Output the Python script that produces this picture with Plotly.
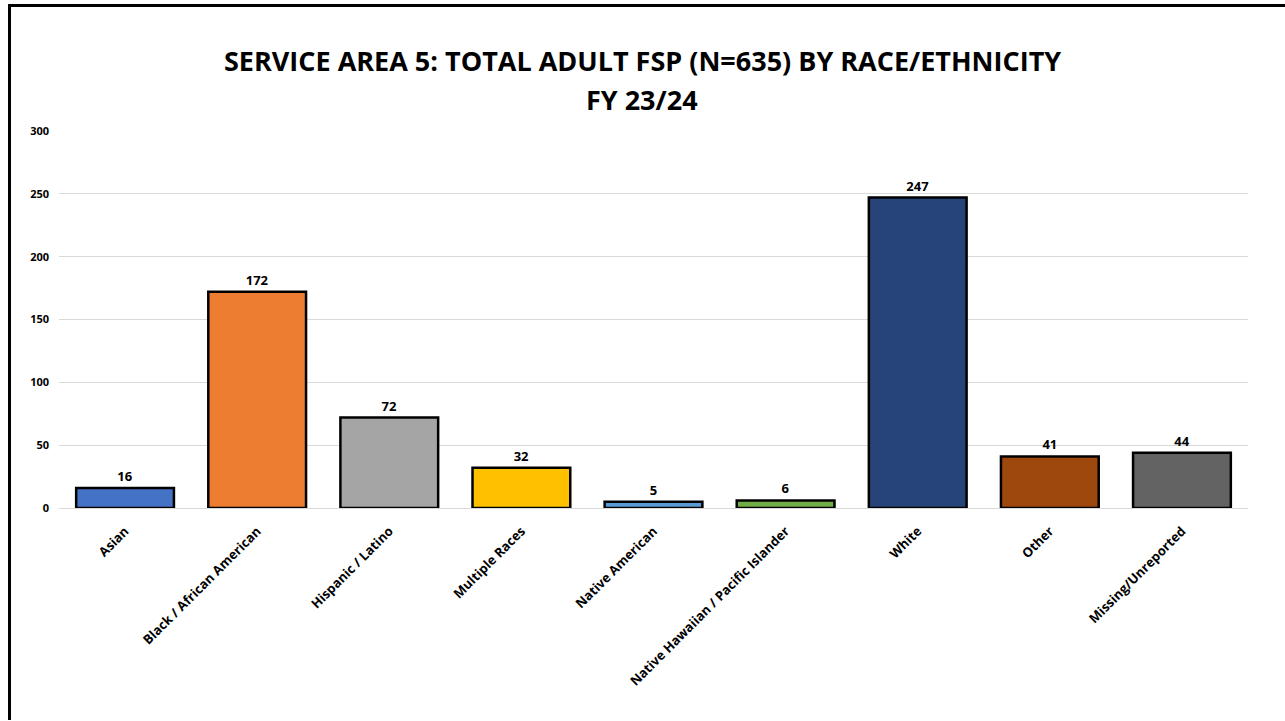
import plotly.graph_objects as go

categories = ["Asian", "Black / African American", "Hispanic / Latino", "Multiple Races",
              "Native American", "Native Hawaiian / Pacific Islander", "White", "Other",
              "Missing/Unreported"]
values = [16, 172, 72, 32, 5, 6, 247, 41, 44]
colors = ["#4472C4", "#ED7D31", "#A5A5A5", "#FFC000", "#5B9BD5", "#70AD47",
          "#264478", "#9E480E", "#636363"]
y_ticks = [0, 50, 100, 150, 200, 250, 300]
title_line1 = "SERVICE AREA 5: TOTAL ADULT FSP (N=635) BY RACE/ETHNICITY"
title_line2 = "FY 23/24"

W, H = 1285, 720
L, R, T, B = 59, 37, 131, 212
pw, ph = W - L - R, H - T - B


def px_x(x):
    return (x - L) / pw


def px_y(y):
    return (H - B - y) / ph


fig = go.Figure(go.Bar(
    x=categories, y=values,
    marker=dict(color=colors, line=dict(color="black", width=2.5)),
    text=[str(v) for v in values], textposition="outside",
    textfont=dict(family="Open Sans", size=13, color="black", weight="bold"),
    cliponaxis=False,
))

fig.update_layout(
    width=W, height=H,
    margin=dict(l=L, r=R, t=T, b=B),
    paper_bgcolor="white", plot_bgcolor="white",
    bargap=0.26,
    showlegend=False,
    hovermode=False,
    xaxis=dict(
        tickangle=-45, showgrid=False, showline=False, ticks="",
        ticklabelstandoff=12,
        tickfont=dict(family="Open Sans", size=13, color="black", weight="bold"),
    ),
    yaxis=dict(
        range=[0, 300], tickvals=y_ticks, showgrid=True, gridcolor="#D9D9D9",
        zeroline=True, zerolinecolor="#D9D9D9", zerolinewidth=1,
        ticks="", ticklen=0, ticklabelstandoff=9,
        tickfont=dict(family="Open Sans", size=11, color="black", weight="bold"),
    ),
    annotations=[
        dict(text=title_line1, xref="paper", yref="paper", x=px_x(642), y=px_y(60),
             xanchor="center", yanchor="middle", showarrow=False,
             font=dict(family="Open Sans", size=27, color="black", weight="bold")),
        dict(text=title_line2, xref="paper", yref="paper", x=px_x(642), y=px_y(100),
             xanchor="center", yanchor="middle", showarrow=False,
             font=dict(family="Open Sans", size=27, color="black", weight="bold")),
    ],
    shapes=[dict(
        type="rect", xref="paper", yref="paper",
        x0=px_x(9.5), x1=px_x(1300), y0=px_y(740), y1=px_y(5.5),
        line=dict(color="black", width=3), fillcolor="rgba(0,0,0,0)", layer="above",
    )],
)

fig.write_html(
    "out.html",
    config={"displayModeBar": False},
    post_script="document.body.style.margin='0';document.body.style.overflow='hidden';",
)
